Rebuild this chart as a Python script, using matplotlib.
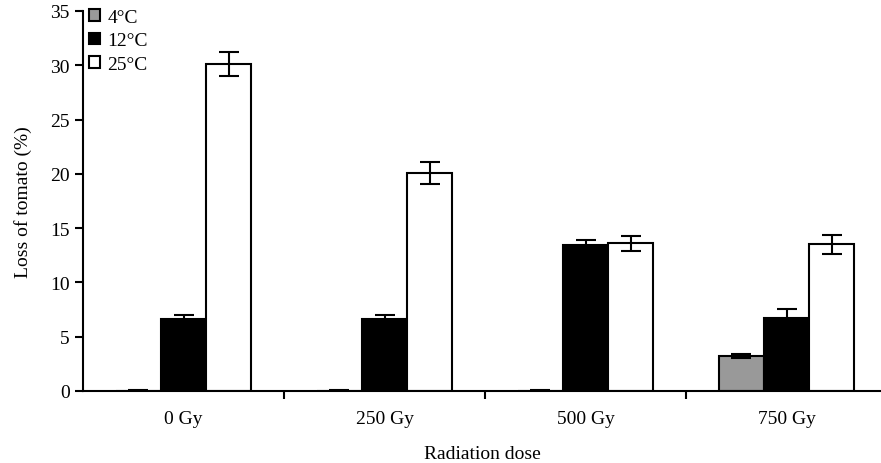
import numpy as np
import matplotlib
matplotlib.use("Agg")
import matplotlib.pyplot as plt
from matplotlib.patches import Patch

plt.rcParams['font.family'] = ['Liberation Serif', 'DejaVu Serif']

doses = ["0 Gy", "250 Gy", "500 Gy", "750 Gy"]
temps = ["4°C", "12°C", "25°C"]

loss_4 = [0.0, 0.0, 0.0, 3.25]
err_4 = [0.1, 0.1, 0.1, 0.2]
loss_12 = [6.65, 6.6, 13.45, 6.75]
err_12 = [0.35, 0.4, 0.5, 0.8]
loss_25 = [30.1, 20.1, 13.6, 13.5]
err_25 = [1.1, 1.0, 0.7, 0.9]

colors = ["#999999", "black", "white"]

fig = plt.figure(figsize=(8.81, 4.64), dpi=100)
ax = fig.add_axes([83 / 881, 72 / 464, 798 / 881, 380 / 464])

x = np.arange(len(doses))
w = 0.224
series = [(loss_4, err_4), (loss_12, err_12), (loss_25, err_25)]
for i, (vals, errs) in enumerate(series):
    ax.bar(x + (i - 1) * w, vals, w, yerr=errs, color=colors[i],
           edgecolor="black", linewidth=1.5, zorder=2,
           error_kw=dict(ecolor="black", elinewidth=1.5, capsize=7.5,
                         capthick=1.5, zorder=3))

ax.set_xlim(-0.5, -0.5 + 798 / 201)
ax.set_ylim(0, 35)
ax.set_yticks(range(0, 36, 5))
ax.set_xticks(x)
ax.set_xticklabels(doses)
ax.set_xticks(x[:-1] + 0.5, minor=True)
ax.tick_params(axis="x", which="major", length=0, pad=13.5, labelsize=14)
ax.tick_params(axis="x", which="minor", length=6, width=1.5, direction="out")
ax.tick_params(axis="y", length=6, width=1.5, direction="out", labelsize=14)

for s in ["top", "right"]:
    ax.spines[s].set_visible(False)
for s in ["left", "bottom"]:
    ax.spines[s].set_linewidth(1.5)

ax.set_xlabel("Radiation dose", fontsize=14, labelpad=13)
ax.set_ylabel("Loss of tomato (%)", fontsize=14, labelpad=13)

handles = [Patch(facecolor=c, edgecolor="black", linewidth=1.5) for c in colors]
ax.legend(handles, temps, loc="upper left", bbox_to_anchor=(0.0, 1.02),
          frameon=False, fontsize=14, handlelength=0.55, handleheight=0.55,
          handletextpad=0.4, labelspacing=0.32, borderaxespad=0.0,
          borderpad=0.3)

fig.savefig("out.png", dpi=100)
